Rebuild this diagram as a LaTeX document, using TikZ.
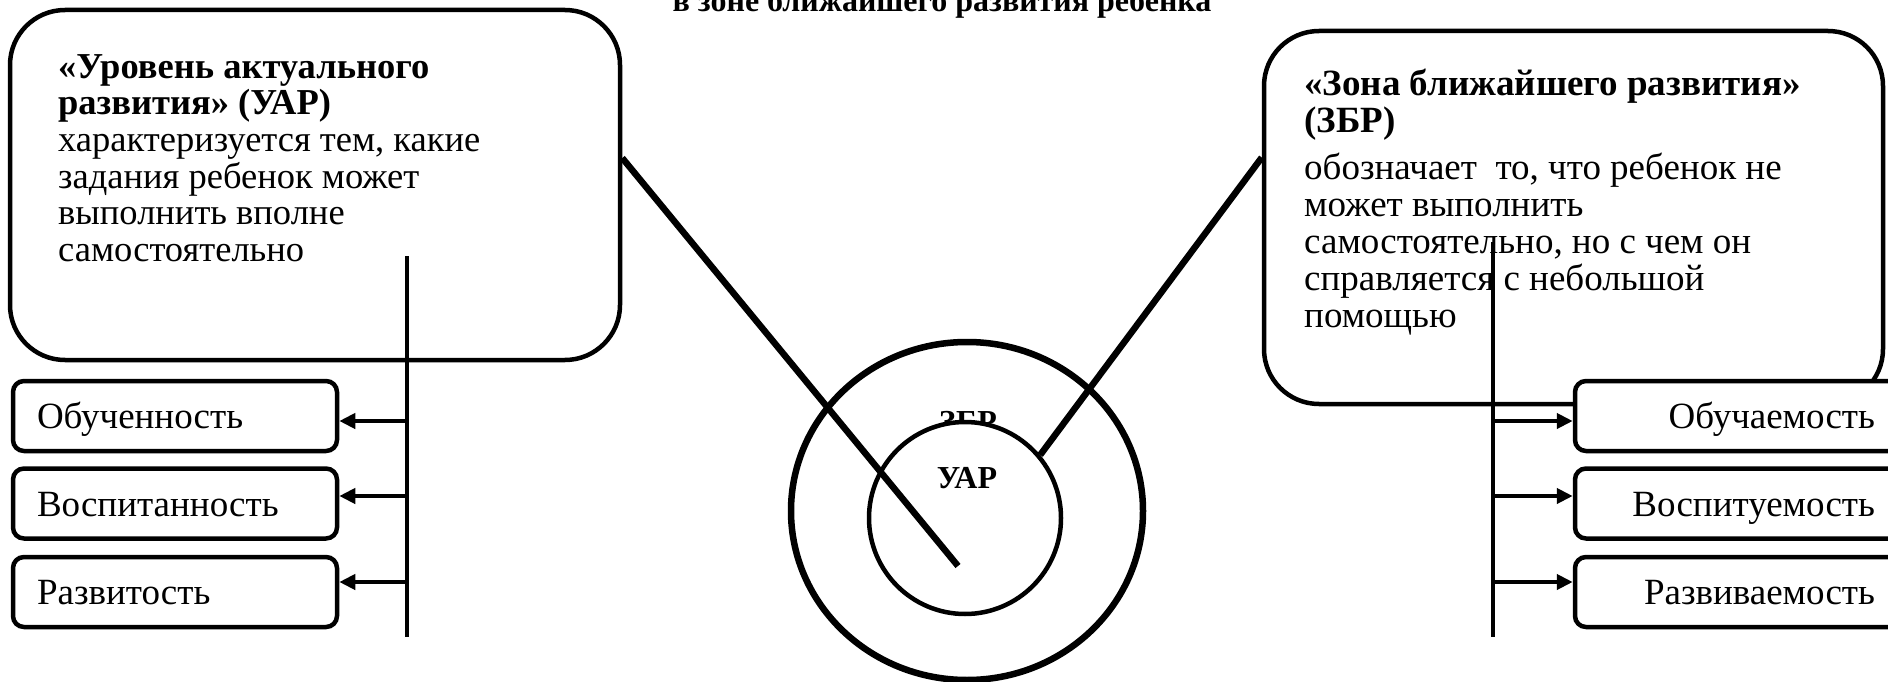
\documentclass[tikz,border=0pt]{standalone}
\usepackage{fontspec}
\setmainfont{Liberation Serif}
\usetikzlibrary{arrows.meta,shapes.geometric}
\begin{document}
\begin{tikzpicture}[x=1pt,y=-1pt,
  bigbox/.style={draw, line width=4.5pt, rounded corners=55pt, inner sep=0pt},
  txt/.style={align=left, inner sep=0pt, anchor=base west},
  lsmall/.style={draw, line width=4.5pt, rounded corners=11pt, fill=white, text height=25pt, text depth=0pt, minimum height=70pt, inner ysep=0pt, inner xsep=24pt, text width=276pt, align=left, font=\fontsize{37}{42.6}\selectfont},
  rsmall/.style={draw, line width=4.5pt, rounded corners=11pt, fill=white, text height=25pt, text depth=0pt, minimum height=70pt, inner ysep=0pt, inner xsep=30pt, text width=270pt, align=right, font=\fontsize{37}{42.6}\selectfont},
  vline/.style={line width=4.5pt},
  arr/.style={line width=4.5pt, -{Triangle[length=16pt,width=15pt]}},
  diag/.style={line width=6.5pt},
  lbl/.style={font=\bfseries\fontsize{32}{36}\selectfont, anchor=base, inner sep=0pt}
]
\useasboundingbox (0,0) rectangle (1888,682);
\fill[white] (0,0) rectangle (1888,682);

% title (cut at the top)
\node[lbl] (title) at (942,12) {в зоне ближайшего развития ребенка};

% big boxes
\node[bigbox, minimum width=610pt, minimum height=350pt] (lbox) at (315,185) {};
\node[txt, font=\fontsize{36.5}{36.7}\selectfont] (ltext) at (58,261.5) {\textbf{«Уровень актуального}\\\textbf{развития» (УАР)}\\характеризуется тем, какие\\задания ребенок может\\выполнить вполне\\самостоятельно};

\node[bigbox, minimum width=619pt, minimum height=373pt] (rbox) at (1573.5,217.5) {};
\node[txt, font=\fontsize{37}{37}\selectfont] (rtext) at (1304,327.5) {\textbf{«Зона ближайшего развития»}\\\textbf{(ЗБР)}\\[10pt]обозначает\ \ то, что ребенок не\\может выполнить\\самостоятельно, но с чем он\\справляется с небольшой\\помощью};

% vertical lines
\coordinate (lvt) at (407,256);
\coordinate (lvb) at (407,637);
\draw[vline] (lvt) -- (lvb);
\coordinate (rvt) at (1493,242);
\coordinate (rvb) at (1493,637);
\draw[vline] (rvt) -- (rvb);

% small boxes
\node[lsmall] (ob) at (175,416) {Обученность};
\node[lsmall] (vo) at (175,503.5) {Воспитанность};
\node[lsmall] (ra) at (175,592) {Развитость};
\node[rsmall] (obu) at (1740,416) {Обучаемость};
\node[rsmall] (vos) at (1740,503.5) {Воспитуемость};
\node[rsmall] (raz) at (1740,592) {Развиваемость};

% arrows
\coordinate (la1) at (407,421);
\coordinate (la2) at (407,496);
\coordinate (la3) at (407,582);
\draw[arr] (la1) -- (la1 -| ob.east);
\draw[arr] (la2) -- (la2 -| vo.east);
\draw[arr] (la3) -- (la3 -| ra.east);
\coordinate (ra1) at (1493,421);
\coordinate (ra2) at (1493,496);
\coordinate (ra3) at (1493,582);
\draw[arr] (ra1) -- (ra1 -| obu.west);
\draw[arr] (ra2) -- (ra2 -| vos.west);
\draw[arr] (ra3) -- (ra3 -| raz.west);

% circles
\node[ellipse, draw, line width=6.5pt, minimum width=352pt, minimum height=338pt, inner sep=0pt] (outer) at (967,511) {};
\node[lbl] (zbr) at (968,432) {ЗБР};
\node[circle, draw, line width=4.5pt, fill=white, minimum size=192pt, inner sep=0pt] (inner) at (965,518) {};
\node[lbl] (uar) at (967,488) {УАР};

% diagonal connectors
\coordinate (lend) at (958,566);
\draw[diag] ([yshift=27pt]lbox.east) -- (lend);
\draw[diag] ([yshift=60pt]rbox.west) -- (inner.40);
\end{tikzpicture}
\end{document}
